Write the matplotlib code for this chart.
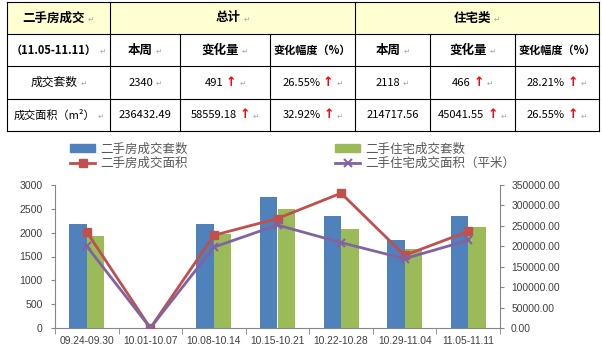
import numpy as np
import matplotlib
matplotlib.use('Agg')
import matplotlib.pyplot as plt
from matplotlib.patches import Patch, Rectangle
from matplotlib.lines import Line2D
from matplotlib.ticker import FormatStrFormatter
from matplotlib.offsetbox import TextArea, HPacker, AnnotationBbox

plt.rcParams['font.family'] = ['Liberation Sans', 'Noto Sans CJK SC', 'DejaVu Sans']

# =============================================================================
# Data
# =============================================================================

# Summary table
corner_title = '二手房成交'
period_label = '（11.05-11.11）'
group_titles = ['总计', '住宅类']
sub_headers = ['本周', '变化量', '变化幅度（%）']
row_labels = ['成交套数', '成交面积（m²）']
units_row = ['2340', '491', '26.55%', '2118', '466', '28.21%']
area_row = ['236432.49', '58559.18', '32.92%', '214717.56', '45041.55', '26.55%']
arrow_cols = [1, 2, 4, 5]

# Weekly chart
weeks = ['09.24-09.30', '10.01-10.07', '10.08-10.14', '10.15-10.21',
         '10.22-10.28', '10.29-11.04', '11.05-11.11']
all_units = [2190, 0, 2180, 2750, 2350, 1849, 2340]
res_units = [1925, 0, 1965, 2505, 2070, 1652, 2118]
all_area = [235000, 0, 227000, 268000, 330000, 177873.31, 236432.49]
res_area = [200000, 0, 198000, 252000, 209000, 169676.01, 214717.56]
series_names = ['二手房成交套数', '二手房成交面积',
                '二手住宅成交套数', '二手住宅成交面积（平米）']

c_blue, c_green = '#4F81BD', '#9BBB59'
c_red, c_purple = '#C0504D', '#8064A2'
c_axis, c_text = '#868686', '#404040'

# =============================================================================
# Figure
# =============================================================================

W, H = 602, 352
fig = plt.figure(figsize=[W / 100, H / 100], dpi=100)

# ---- table, drawn in pixel coordinates ----
tab = fig.add_axes([0, 0, 1, 1])
tab.set_xlim(0, W)
tab.set_ylim(H, 0)
tab.axis('off')

xs = [7, 110, 180, 270, 355, 430, 515, 599]
ys = [2, 34, 66, 99, 131]
tfont = ['Noto Sans CJK SC', 'DejaVu Sans']

tab.add_patch(Rectangle((xs[0], ys[0]), xs[-1] - xs[0], ys[1] - ys[0],
                        facecolor='#FFFFD2', edgecolor='none'))
for y in ys:
    tab.plot([xs[0], xs[-1]], [y, y], color='black', lw=0.8)
for i, x in enumerate(xs):
    y0 = ys[0] if x in (xs[0], xs[1], xs[4], xs[-1]) else ys[1]
    tab.plot([x, x], [y0, ys[-1]], color='black', lw=0.8)


def cx(i):
    return (xs[i] + xs[i + 1]) / 2


def cy(j):
    return (ys[j] + ys[j + 1]) / 2


def cell(x, y, s, bold=False, arrow=False, size=8, mark=True):
    kw = dict(family=tfont, size=size, color='black',
              weight='bold' if bold else 'normal')
    parts = [TextArea(s, textprops=kw)]
    if arrow:
        parts.append(TextArea('↑', textprops=dict(family=['DejaVu Sans'],
                                                  size=9, color='red',
                                                  weight='bold')))
    if mark:
        parts.append(TextArea('↵', textprops=dict(family=['DejaVu Sans'],
                                                  size=5.5, color='#A8A8A8')))
    box = HPacker(children=parts, sep=2, pad=0, align='baseline')
    tab.add_artist(AnnotationBbox(box, (x, y), frameon=False,
                                  box_alignment=(0.5, 0.5), pad=0))


cell(cx(0), cy(0), corner_title, bold=True, size=9)
cell((xs[1] + xs[4]) / 2, cy(0), group_titles[0], bold=True, size=9)
cell((xs[4] + xs[7]) / 2, cy(0), group_titles[1], bold=True, size=9)
cell(cx(0), cy(1), period_label, bold=True, size=8)
for k, h in enumerate(sub_headers + sub_headers):
    long = k % 3 == 2
    cell(cx(k + 1), cy(1), h, bold=True, size=8 if long else 9,
         mark=not long)
for j, (lab, vals) in enumerate(zip(row_labels, [units_row, area_row])):
    cell(cx(0), cy(j + 2), lab, size=8 if j else 8.5)
    for k, v in enumerate(vals):
        cell(cx(k + 1), cy(j + 2), v, arrow=k in arrow_cols, size=8,
             mark=len(v) < 9)

# ---- combo chart ----
ax = fig.add_axes([55 / W, 1 - 328 / H, 445 / W, 143 / H])
x = np.arange(len(weeks))
bw = 0.275
ax.bar(x - bw / 2, all_units, bw, color=c_blue)
ax.bar(x + bw / 2, res_units, bw, color=c_green)
ax.set_xlim(-0.5, len(weeks) - 0.5)
ax.set_ylim(0, 3000)
ax.set_yticks(np.arange(0, 3001, 500))
ax.set_xticks(x)
ax.set_xticklabels(weeks)
ax.set_xticks(np.arange(-0.5, len(weeks), 1), minor=True)
ax.tick_params(axis='x', which='major', length=0, pad=6,
               labelsize=7.4, labelcolor=c_text)
ax.tick_params(axis='x', which='minor', length=4, color=c_axis)
ax.tick_params(axis='y', length=3, color=c_axis, labelsize=7.6,
               labelcolor=c_text, pad=6)
for s in ['top', 'right']:
    ax.spines[s].set_visible(False)
for s in ['left', 'bottom']:
    ax.spines[s].set_color(c_axis)

ax2 = ax.twinx()
ax2.plot(x, all_area, color=c_red, lw=2, marker='s', ms=6)
ax2.plot(x, res_area, color=c_purple, lw=2, marker='x', ms=6, mew=1.5)
ax2.set_ylim(0, 350000)
ax2.set_yticks(np.arange(0, 350001, 50000))
ax2.yaxis.set_major_formatter(FormatStrFormatter('%.2f'))
ax2.tick_params(axis='y', length=3, color=c_axis, labelsize=7.4,
                labelcolor=c_text, pad=5)
for s in ['top', 'left', 'bottom']:
    ax2.spines[s].set_visible(False)
ax2.spines['right'].set_color(c_axis)

handles = [Patch(color=c_blue),
           Line2D([], [], color=c_red, lw=2, marker='s', ms=6),
           Patch(color=c_green),
           Line2D([], [], color=c_purple, lw=2, marker='x', ms=6, mew=1.5)]
leg = fig.legend(handles, series_names, ncol=2, loc='upper left',
                 bbox_to_anchor=(64 / W, 1 - 137 / H), frameon=False,
                 borderpad=0, handlelength=2.0, handletextpad=0.4,
                 labelspacing=0.2, columnspacing=11.8,
                 prop=dict(size=9))
for t in leg.get_texts():
    t.set_color('#595959')

fig.savefig('out.png', dpi=100)
